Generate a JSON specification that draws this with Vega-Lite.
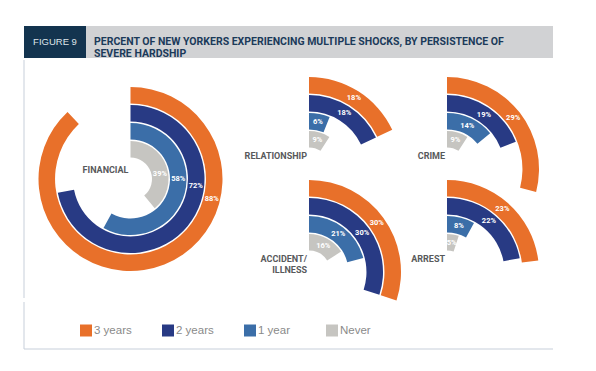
{
  "$schema": "https://vega.github.io/schema/vega-lite/v6.json",
  "background": "white",
  "padding": {"left": 23, "top": 26, "right": 0, "bottom": 0},
  "config": {
    "view": {"stroke": null},
    "font": "Liberation Sans"
  },
  "datasets": {
    "rings": [
      {"chart": "FINANCIAL", "group": "3 years", "share": 0.88},
      {"chart": "FINANCIAL", "group": "2 years", "share": 0.72},
      {"chart": "FINANCIAL", "group": "1 year", "share": 0.58},
      {"chart": "FINANCIAL", "group": "Never", "share": 0.39},
      {"chart": "RELATIONSHIP", "group": "3 years", "share": 0.18},
      {"chart": "RELATIONSHIP", "group": "2 years", "share": 0.18},
      {"chart": "RELATIONSHIP", "group": "1 year", "share": 0.06},
      {"chart": "RELATIONSHIP", "group": "Never", "share": 0.09},
      {"chart": "CRIME", "group": "3 years", "share": 0.29},
      {"chart": "CRIME", "group": "2 years", "share": 0.19},
      {"chart": "CRIME", "group": "1 year", "share": 0.14},
      {"chart": "CRIME", "group": "Never", "share": 0.09},
      {"chart": "ACCIDENT/ ILLNESS", "group": "3 years", "share": 0.30},
      {"chart": "ACCIDENT/ ILLNESS", "group": "2 years", "share": 0.30},
      {"chart": "ACCIDENT/ ILLNESS", "group": "1 year", "share": 0.21},
      {"chart": "ACCIDENT/ ILLNESS", "group": "Never", "share": 0.16},
      {"chart": "ARREST", "group": "3 years", "share": 0.23},
      {"chart": "ARREST", "group": "2 years", "share": 0.22},
      {"chart": "ARREST", "group": "1 year", "share": 0.08},
      {"chart": "ARREST", "group": "Never", "share": 0.05}
    ],
    "header": [
      {"figure": "FIGURE 9", "title": ["PERCENT OF NEW YORKERS EXPERIENCING MULTIPLE SHOCKS, BY PERSISTENCE OF", "SEVERE HARDSHIP"]}
    ]
  },
  "spacing": -4,
  "resolve": {"scale": {"color": "independent", "fill": "independent", "radius": "independent", "theta": "independent"}, "legend": {"color": "independent", "fill": "independent"}},
  "vconcat": [
    {
      "spacing": 0,
      "bounds": "flush",
      "hconcat": [
        {
          "width": 62, "height": 32,
          "view": {"fill": "#13344f", "stroke": null},
          "data": {"name": "header"},
          "mark": {"type": "text", "color": "#dfe4ea", "font": "Liberation Sans", "fontSize": 9.5},
          "encoding": {"text": {"field": "figure"}}
        },
        {
          "width": 467, "height": 32,
          "view": {"fill": "#d1d2d4", "stroke": null},
          "data": {"name": "header"},
          "mark": {"type": "text", "align": "left", "dx": -225.5, "font": "Roboto", "fontWeight": "bold", "fontSize": 10.5, "lineHeight": 12, "color": "#1b3a5a"},
          "encoding": {"text": {"field": "title"}}
        }
      ]
    },
    {
      "spacing": 3,
      "bounds": "flush",
      "resolve": {"scale": {"color": "independent", "radius": "independent", "theta": "independent"}, "legend": {"color": "independent"}},
      "hconcat": [
        {
          "width": 213, "height": 238,
          "data": {"name": "rings"},
          "transform": [{"filter": "datum.chart === 'FINANCIAL'"}],
          "resolve": {"scale": {"theta": "independent"}},
          "layer": [
            {
              "transform": [{"filter": "datum.group === 'Never'"}],
              "mark": {"type": "rule", "color": "#c7cfda", "strokeWidth": 1},
              "encoding": {"x": {"datum": 0, "type": "quantitative", "scale": {"domain": [0, 1]}, "axis": null}}
            },
            {
              "mark": {"type": "arc"},
              "encoding": {
                "theta": {"field": "share", "type": "quantitative", "stack": null, "scale": {"domain": [0, 1], "range": [0, 6.283185]}},
                "radius": {"field": "group", "type": "nominal", "scale": {"type": "band", "domain": ["Never", "1 year", "2 years", "3 years"], "range": [21.5, 92], "paddingInner": 0.08, "paddingOuter": 0}},
                "color": {"field": "group", "type": "nominal", "scale": {"domain": ["3 years", "2 years", "1 year", "Never"], "range": ["#e8702a", "#283a84", "#3b6ea8", "#c6c5c1"]}, "legend": null}
              }
            },
            {
              "mark": {"type": "text", "font": "Roboto", "fontWeight": "bold", "fontSize": 7.5, "color": "white"},
              "encoding": {
                "theta": {"field": "share", "type": "quantitative", "stack": null, "scale": {"domain": [0, 1], "range": [1.094, 1.913]}},
                "radius": {"field": "group", "type": "nominal", "bandPosition": 0.5, "scale": {"type": "band", "domain": ["Never", "1 year", "2 years", "3 years"], "range": [21.5, 92], "paddingInner": 0.08, "paddingOuter": 0}},
                "text": {"field": "share", "type": "quantitative", "format": ".0%"}
              }
            },
            {
              "transform": [{"filter": "datum.group === '3 years'"}],
              "mark": {"type": "text", "align": "right", "baseline": "alphabetic", "dx": -2, "dy": -6, "font": "Roboto", "fontWeight": "bold", "fontSize": 9, "color": "#58595b"},
              "encoding": {"text": {"field": "chart"}}
            }
          ]
        },
        {
          "data": {"name": "rings"},
          "transform": [{"filter": "datum.chart !== 'FINANCIAL'"}],
          "facet": {"field": "chart", "type": "nominal", "sort": ["RELATIONSHIP", "CRIME", "ACCIDENT/ ILLNESS", "ARREST"], "header": {"title": null, "labelExpr": "''", "labelFontSize": 1, "labelPadding": 0, "labelOrient": "bottom"}},
          "columns": 2,
          "spacing": 0,
          "bounds": "flush",
          "spec": {
            "width": 138, "height": 103,
            "resolve": {"scale": {"theta": "independent"}},
            "layer": [
              {
                "mark": {"type": "arc", "yOffset": 57.5},
                "encoding": {
                  "theta": {"field": "share", "type": "quantitative", "stack": null, "scale": {"domain": [0, 1], "range": [0, 6.283185]}},
                  "radius": {"field": "group", "type": "nominal", "scale": {"type": "band", "domain": ["Never", "1 year", "2 years", "3 years"], "range": [21.5, 92], "paddingInner": 0.08, "paddingOuter": 0}},
                  "color": {"field": "group", "type": "nominal", "scale": {"domain": ["3 years", "2 years", "1 year", "Never"], "range": ["#e8702a", "#283a84", "#3b6ea8", "#c6c5c1"]}, "legend": null}
                }
              },
              {
                "mark": {"type": "text", "yOffset": 57.5, "font": "Roboto", "fontWeight": "bold", "fontSize": 7.5, "color": "white"},
                "encoding": {
                  "theta": {"field": "share", "type": "quantitative", "stack": null, "scale": {"domain": [0, 1], "range": [0, 3.141593]}},
                  "radius": {"field": "group", "type": "nominal", "bandPosition": 0.5, "scale": {"type": "band", "domain": ["Never", "1 year", "2 years", "3 years"], "range": [21.5, 92], "paddingInner": 0.08, "paddingOuter": 0}},
                  "text": {"field": "share", "type": "quantitative", "format": ".0%"}
                }
              },
              {
                "transform": [{"filter": "datum.group === '3 years'"}],
                "mark": {"type": "text", "yOffset": 57.5, "align": "right", "baseline": "alphabetic", "dx": -2, "dy": -10, "lineBreak": " ", "lineHeight": 11, "font": "Roboto", "fontWeight": "bold", "fontSize": 9, "color": "#58595b"},
                "encoding": {"text": {"field": "chart"}}
              }
            ]
          }
        }
      ]
    },
    {
      "width": 529, "height": 47,
      "data": {"name": "rings"},
      "transform": [{"filter": "datum.chart === 'FINANCIAL'"}],
      "layer": [
        {
          "transform": [{"filter": "datum.group === 'Never'"}],
          "mark": {"type": "rule", "color": "#c7cfda", "strokeWidth": 1},
          "encoding": {"x": {"datum": 0, "type": "quantitative", "scale": {"domain": [0, 1]}, "axis": null}}
        },
        {
          "transform": [{"filter": "datum.group === 'Never'"}],
          "mark": {"type": "rule", "color": "#c7cfda", "strokeWidth": 1},
          "encoding": {
            "y": {"datum": 0, "type": "quantitative", "scale": {"domain": [0, 1]}, "axis": null},
            "fill": {
              "field": "group", "type": "nominal",
              "scale": {"domain": ["3 years", "2 years", "1 year", "Never"], "range": ["#e8702a", "#283a84", "#3b6ea8", "#c6c5c1"]},
              "legend": {"orient": "none", "legendX": 56, "legendY": 22.5, "direction": "horizontal", "columns": 4, "gridAlign": "all", "columnPadding": 30, "title": null, "symbolType": "square", "symbolSize": 144, "symbolStrokeWidth": 0, "symbolOpacity": 1, "labelFont": "Liberation Sans", "labelFontSize": 11.5, "labelColor": "#8a8a8a", "labelOffset": 2, "padding": 0}
            }
          }
        }
      ]
    }
  ]
}
